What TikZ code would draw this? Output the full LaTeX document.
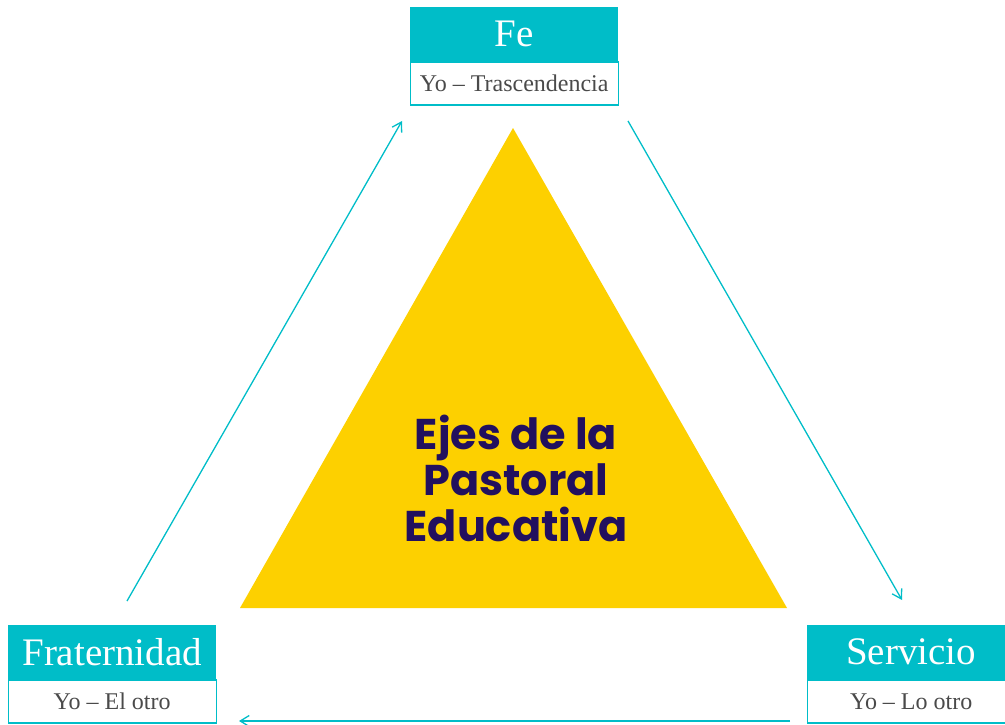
\documentclass[tikz,border=0pt]{standalone}
\usepackage{fontspec}
\setmainfont{Liberation Serif}
\newfontfamily\ejefont{Poppins}
\usetikzlibrary{arrows.meta}

\definecolor{turquesa}{HTML}{00BDC8}
\definecolor{amarillo}{HTML}{FDD000}
\definecolor{morado}{HTML}{22105E}
\definecolor{gris}{HTML}{4A4A4A}

\tikzset{
    titulo/.style={fill=turquesa, text=white, anchor=north west, inner sep=0pt,
        minimum width=208pt, minimum height=54pt, font=\fontsize{39}{42}\selectfont},
    sub/.style={draw=turquesa, line width=1.3pt, fill=white, text=gris, anchor=north,
        inner sep=0pt, minimum width=208pt, minimum height=43pt, font=\fontsize{24}{26}\selectfont},
    flecha/.style={draw=turquesa, line width=1.3pt, -{Straight Barb[length=9pt, width=11pt]}}
}

\begin{document}
\begin{tikzpicture}[x=1pt, y=-1pt]
    \useasboundingbox (0,0) rectangle (1005,725);

    % Triangulo
    \fill[amarillo] (513,128) -- (787,608) -- (240,608) -- cycle;
    \node[text=morado, align=center, font=\ejefont\bfseries\fontsize{43}{46}\selectfont] (eje) at (516,478)
        {Ejes de la\\Pastoral\\Educativa};

    % Fe
    \node[titulo] (fe) at (410,7) {Fe};
    \node[sub] (fesub) at (fe.south) {Yo -- Trascendencia};

    % Fraternidad
    \node[titulo] (frat) at (8,625) {Fraternidad};
    \node[sub] (fratsub) at (frat.south) {Yo -- El otro};

    % Servicio
    \node[titulo] (serv) at (807,625) {Servicio};
    \node[sub] (servsub) at (serv.south) {Yo -- Lo otro};

    % Flechas
    \coordinate (a1) at (127,601);
    \coordinate (a2) at (402,121);
    \coordinate (b1) at (628,121);
    \coordinate (b2) at (902,600);
    \coordinate (c1) at (790,721);
    \coordinate (c2) at (239,721);
    \draw[flecha] (a1) -- (a2);
    \draw[flecha] (b1) -- (b2);
    \draw[flecha] (c1) -- (c2);
\end{tikzpicture}
\end{document}
